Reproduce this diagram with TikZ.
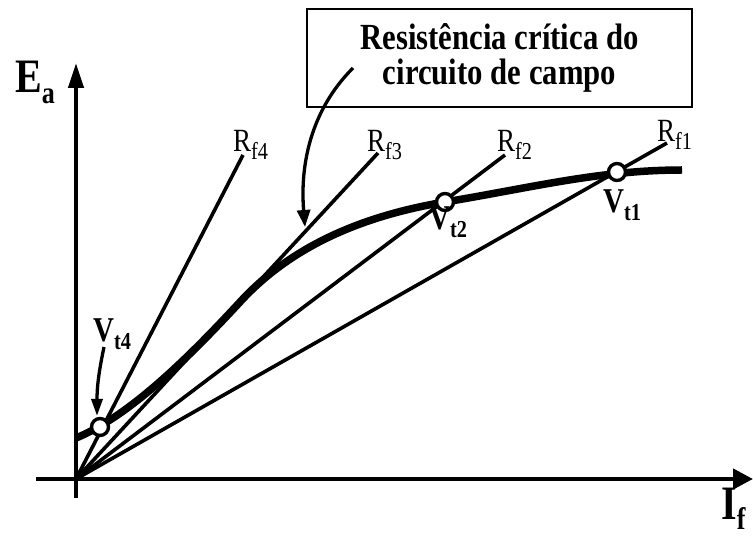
\documentclass[tikz,border=0pt]{standalone}
\usepackage{fontspec}
\usepackage{graphicx}
\setmainfont{Liberation Serif}
\usetikzlibrary{arrows.meta}
\newcommand{\ind}[2][0.7]{\raisebox{-0.22em}{\scalebox{#1}{#2}}}
\begin{document}
\begin{tikzpicture}[x=1pt,y=1pt,
    eixo/.style={line width=4.3pt},
    reta/.style={line width=3.6pt},
    curva/.style={line width=7.5pt},
    ponto/.style={circle, draw, fill=white, line width=3.4pt, minimum size=17pt, inner sep=0pt},
    rotulo/.style={inner sep=0pt, anchor=base west, yscale=1.2, font=\fontsize{27}{30}\selectfont},
    tensao/.style={inner sep=0pt, anchor=base west, yscale=1.2, font=\fontsize{29}{32}\selectfont\bfseries},
    grandeza/.style={inner sep=0pt, anchor=base west, yscale=1.2, font=\fontsize{40}{44}\selectfont\bfseries},
    seta/.style={line width=3.3pt, -{Triangle[length=17pt,width=13pt]}}]
\useasboundingbox (0,0) rectangle (753,536);
% eixos
\coordinate (O) at (76,57);
\coordinate (yb) at (76,38);
\coordinate (yt) at (76,473);
\coordinate (xl) at (36,57);
\coordinate (xr) at (753,57);
\draw[eixo, -{Triangle[length=25pt,width=15pt]}] (yb) -- (yt);
\draw[eixo, -{Triangle[length=20pt,width=20pt]}] (xl) -- (xr);
\node[grandeza] (ea) at (15,443) {E\ind[0.65]{a}};
\node[grandeza] (if) at (721,17) {I\ind[0.65]{f}};
% retas de campo
\coordinate (rf4) at (243,381);
\coordinate (rf3) at (378,383);
\coordinate (rf2) at (505,381);
\coordinate (rf1) at (667,393);
\draw[reta] (O) -- (rf4);
\draw[reta] (O) -- (rf3);
\draw[reta] (O) -- (rf2);
\draw[reta] (O) -- (rf1);
\node[rotulo] (lrf4) at (233,384) {R\ind[0.75]{f4}};
\node[rotulo] (lrf3) at (367,384) {R\ind[0.75]{f3}};
\node[rotulo] (lrf2) at (497,384) {R\ind[0.75]{f2}};
\node[rotulo] (lrf1) at (657,394) {R\ind[0.75]{f1}};
% curva de magnetizacao
\draw[curva] (76,98) .. controls (125,118) and (180,169) .. (240,234)
                     .. controls (285,283) and (350,318) .. (445,334)
                     .. controls (530,348) and (600,366) .. (682,366);
\node[ponto] (vt4) at (100,109) {};
\node[ponto] (vt2) at (445,334) {};
\node[ponto] (vt1) at (617,364) {};
\node[tensao] (lvt4) at (93,194) {V\ind{t4}};
\node[tensao] (lvt2) at (429,306) {V\ind{t2}};
\node[tensao] (lvt1) at (603,323) {V\ind{t1}};
% resistencia critica
\node[draw, line width=1.7pt, yscale=1.2, minimum width=385pt, minimum height=81.7pt, align=center,
      font=\fontsize{30.7}{28.5}\selectfont\bfseries] (caixa) at (499.5,478) {Resistência crítica do\\circuito de campo};
\coordinate (c1) at (353,468);
\coordinate (c2) at (305,309);
\draw[seta] (c1) .. controls (310,425) and (300,370) .. (c2);
\coordinate (a1) at (104,189);
\coordinate (a2) at (97,120);
\draw[seta, -{Triangle[length=17pt,width=11pt]}] (a1) .. controls (99,165) and (97,150) .. (a2);
\end{tikzpicture}
\end{document}
